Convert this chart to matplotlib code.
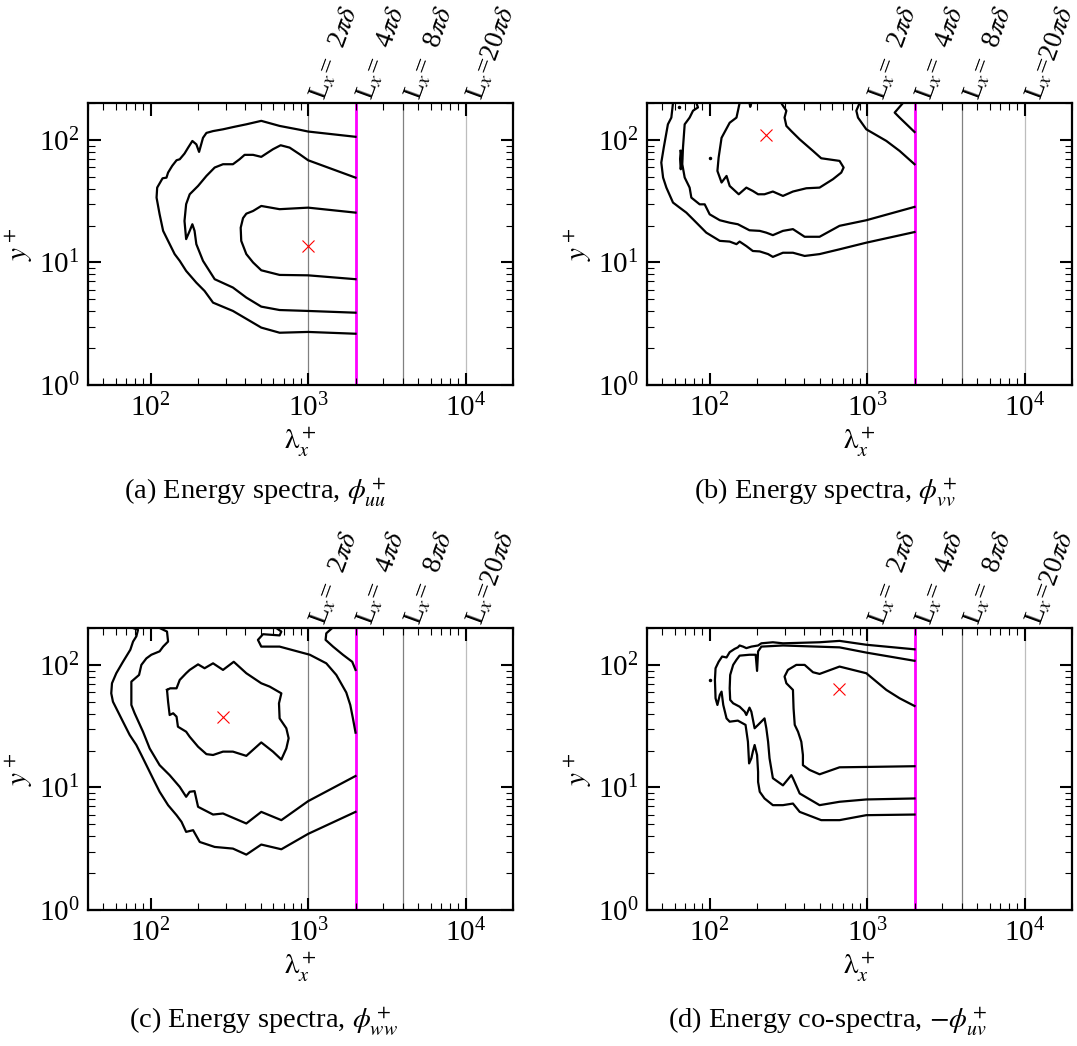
import matplotlib
matplotlib.use('Agg')
import matplotlib.pyplot as plt
import matplotlib.transforms as mtransforms

plt.rcParams['font.family'] = 'serif'
plt.rcParams['font.serif'] = ['Liberation Serif', 'DejaVu Serif']
plt.rcParams['mathtext.fontset'] = 'stix'

# ---- panel (a): phi_uu contours (lambda_x^+, y^+) ----
a1_x = [2000, 1000, 883, 659, 504, 405, 341, 288, 249, 226, 215, 203, 195, 184, 173, 164, 153, 146,
        137, 129, 126, 119, 110, 109, 114, 120, 129, 142, 153, 168, 195, 220, 249, 333, 504, 659, 1000, 2000]
a1_y = [106, 117, 121, 130, 143, 134, 128, 122, 118, 114, 104, 79.8, 92, 98, 86.5, 77.3, 69.5, 68.2,
        61.4, 54.1, 49.2, 48.6, 40.8, 33.8, 24.7, 18.1, 15.0, 11.7, 10.3, 8.53, 6.84, 5.85, 4.70, 4.02, 2.94, 2.67, 2.71, 2.62]
a2_x = [2000, 1000, 883, 763, 669, 598, 504, 447, 395, 367, 333, 288, 255, 226, 200, 177, 168, 164,
        168, 177, 184, 190, 195, 215, 255, 333, 405, 504, 659, 1000, 2000]
a2_y = [49.2, 68.2, 76.4, 86.5, 90.4, 83.9, 72.7, 75.5, 75.5, 69.5, 63.3, 63.3, 59.5, 50.8, 42.1, 36.0, 29.9, 21.8,
        15.5, 18.1, 20.5, 18.1, 14.1, 10.3, 7.30, 6.24, 5.17, 4.36, 4.09, 4.02, 3.89]
a3_x = [2000, 1000, 659, 504, 447, 405, 386, 373, 376, 405, 447, 504, 659, 1000, 2000]
a3_y = [25.5, 28.0, 27.2, 28.9, 26.3, 25.0, 23.0, 19.2, 15.0, 11.7, 10.0, 8.63, 7.91, 7.85, 7.30]
a_peak = (1000, 13.5)

# ---- panel (b): phi_vv ----
b1_x = [58.5, 57.1, 54.3, 51.1, 49.3, 50.6, 53.1, 58.5, 64.5, 71.1, 78.4, 95.2, 116, 134, 148, 155, 171, 188,
        208, 235, 252, 292, 338, 401, 499, 668, 988, 2000]
b1_y = [200, 152, 134, 86.5, 65.3, 49.3, 40.8, 30.8, 28.0, 25.5, 22.5, 17.5, 15.0, 14.8, 14.1, 14.8, 13.6, 12.4,
        12.3, 11.7, 11.1, 12.0, 12.0, 11.3, 11.7, 12.8, 14.5, 17.7]
b1r_x = [1689, 1532, 1496, 1608, 2000]
b1r_y = [200, 173, 167, 152, 116]
b2_x = [82.3, 84.3, 78.4, 74.6, 69.4, 67.7, 67.0, 69.4, 74.6, 76.5, 86.4, 93.0, 100, 116, 134, 151, 179, 208,
        229, 252, 292, 338, 401, 499, 668, 988, 2000]
b2_y = [200, 184, 173, 152, 134, 86.5, 63.3, 49.3, 40.8, 33.8, 29.8, 29.8, 24.7, 22.1, 21.1, 20.5, 18.3, 18.1,
        17.5, 16.7, 18.1, 18.7, 16.2, 16.2, 19.9, 22.1, 28.4]
b2r_x = [896, 854, 875, 988, 1324, 1608, 2000]
b2r_y = [200, 173, 152, 122, 98.1, 81.3, 63.3]
b3_x = [155, 148, 134, 119, 114, 112, 119, 128, 134, 153, 171, 188, 203, 223, 252, 292, 338, 411, 499, 607,
        685, 709, 668, 511, 453, 373, 330, 307, 299, 307, 292, 285]
b3_y = [200, 152, 138, 104, 71.7, 55.8, 44.9, 50.8, 42.1, 36.0, 40.8, 38.3, 36.0, 36.0, 37.9, 34.9, 37.9, 40.3,
        40.8, 47.8, 54.1, 59.5, 67.4, 70.8, 81.3, 101, 118, 130, 152, 173, 190, 200]
b4_x = [179, 181, 184]
b4_y = [200, 186, 200]
b5_x = [65.5, 66.7, 65.5, 64.9, 65.5]
b5_y = [81.3, 70.0, 57.6, 70.0, 81.3]
b_dots_x = [101, 63.9]
b_dots_y = [70.5, 184]
b_peak = (227, 109)

# ---- panel (c): phi_ww ----
c1_x = [77.3, 83.1, 81.1, 77.3, 74.3, 66.7, 60.5, 56.8, 56.2, 57.6, 62.0, 66.7, 73.6, 81.1, 87.3, 98.6, 106,
        114, 129, 146, 157, 168, 186, 205, 255, 333, 405, 504, 676, 1000, 2000]
c1_y = [200, 193, 171, 155, 133, 106, 85.5, 70.8, 58.6, 50.1, 41.5, 34.4, 26.8, 22.2, 18.4, 13.4, 11.1,
        9.22, 7.17, 5.94, 5.24, 4.34, 4.48, 3.59, 3.27, 3.17, 2.83, 3.42, 3.13, 4.18, 6.32]
c1r_x = [1423, 1304, 1291, 1439, 1663, 1906, 2000]
c1r_y = [200, 181, 160, 141, 121, 106, 91.0]
c2_x = [114, 127, 129, 120, 114, 101, 93.9, 87.3, 84.4, 75.4, 75.4, 79.1, 89.4, 98.6, 114, 132, 153, 168,
        177, 190, 200, 249, 288, 405, 504, 676, 1000, 2000]
c2_y = [200, 187, 155, 141, 129, 121, 113, 100, 82.8, 73.0, 47.1, 40.3, 28.5, 20.8, 15.2, 12.6, 10.1, 8.39,
        9.22, 9.33, 6.95, 6.01, 6.13, 5.08, 6.32, 5.41, 7.73, 12.4]
c2r_x = [628, 676, 659, 517, 480, 504, 659, 1025, 1304, 1510, 1747, 1852, 1925, 2000]
c2r_y = [200, 187, 174, 178, 160, 141, 141, 121, 103, 82.8, 59.5, 47.1, 36.6, 28.0]
c3_x = [127, 133, 146, 153, 168, 177, 200, 220, 249, 288, 337, 405, 504, 570, 676, 653, 659, 727, 752, 727,
        676, 598, 504, 405, 333, 288, 249, 226, 200, 177, 168, 149, 146, 139, 132, 129, 127]
c3_y = [62.5, 64.4, 64.4, 75.4, 85.5, 91.0, 101, 93.9, 103, 91.0, 106, 85.5, 70.8, 66.5, 58.6, 48.6, 36.6, 30.4,
        25.2, 20.8, 16.9, 19.6, 23.3, 18.1, 19.6, 19.6, 18.4, 18.7, 21.5, 25.9, 28.5, 31.3, 37.8, 40.3, 39.0, 50.1, 62.5]
c_peak = (288, 37.8)

# ---- panel (d): -phi_uv ----
d1_x = [2000, 988, 668, 499, 292, 252, 213, 203, 184, 171, 163, 155, 151, 144, 134, 128, 120, 114, 109, 108,
        109, 112, 116, 119, 122, 128, 134, 151, 169, 175, 178, 184, 188, 193, 200, 203, 203, 208, 223, 252,
        292, 338, 373, 511, 668, 988, 2000]
d1_y = [134, 146, 157, 153, 150, 153, 150, 144, 141, 137, 141, 144, 139, 135, 127, 115, 117, 106, 93.9, 75.4,
        53.4, 47.1, 56.9, 60.5, 47.1, 36.6, 34.4, 35.1, 32.4, 23.6, 15.7, 17.3, 19.6, 22.2, 18.4, 13.4,
        11.1, 9.22, 8.13, 7.17, 7.17, 7.39, 6.32, 5.41, 5.41, 5.94, 6.01]
d2_x = [2000, 988, 668, 292, 213, 203, 200, 196, 179, 155, 148, 141, 135, 134, 135, 141, 155, 167, 171, 179,
        184, 193, 203, 223, 229, 235, 240, 252, 292, 330, 338, 373, 499, 668, 988, 2000]
d2_y = [108, 126, 139, 144, 141, 129, 89.3, 121, 121, 119, 110, 100, 82.8, 64.4, 51.8, 48.6, 45.6, 41.5, 39.0,
        44.8, 41.5, 30.4, 32.4, 36.6, 30.4, 23.6, 17.3, 11.9, 10.4, 12.6, 11.9, 8.93, 7.17, 7.64, 7.98, 8.13]
d3_x = [2000, 1608, 1324, 988, 668, 499, 453, 401, 355, 314, 299, 307, 338, 341, 347, 364, 382, 391, 391,
        431, 499, 668, 988, 2000]
d3_y = [46.2, 53.4, 62.5, 85.5, 96.9, 84.4, 87.1, 100, 100, 91.0, 80.3, 70.8, 62.5, 44.2, 32.4, 28.5, 23.6,
        18.4, 15.2, 13.9, 12.8, 14.6, 14.7, 14.9]
d_dots_x = [101]
d_dots_y = [75]
d_peak = (662, 63.7)

# reference box lengths
ref_x = [1000, 2000, 4000, 10000]
ref_labels = [r'L$_x$=  2$\pi\delta$', r'L$_x$=  4$\pi\delta$', r'L$_x$=  8$\pi\delta$', r'L$_x$=20$\pi\delta$']
ref_colors = ['#808080', '#ff00ff', '#808080', '#bdbdbd']
ref_widths = [0.9, 2.0, 0.9, 0.9]

captions = [r'(a) Energy spectra, $\phi^+_{uu}$', r'(b) Energy spectra, $\phi^+_{vv}$',
            r'(c) Energy spectra, $\phi^+_{ww}$', r'(d) Energy co-spectra, $-\phi^+_{uv}$']

panels = [
    [(a1_x, a1_y), (a2_x, a2_y), (a3_x, a3_y)],
    [(b1_x, b1_y), (b1r_x, b1r_y), (b2_x, b2_y), (b2r_x, b2r_y), (b3_x, b3_y), (b4_x, b4_y), (b5_x, b5_y)],
    [(c1_x, c1_y), (c1r_x, c1r_y), (c2_x, c2_y), (c2r_x, c2r_y), (c3_x, c3_y)],
    [(d1_x, d1_y), (d2_x, d2_y), (d3_x, d3_y)],
]
peaks = [a_peak, b_peak, c_peak, d_peak]
dots = [None, (b_dots_x, b_dots_y), None, (d_dots_x, d_dots_y)]

W, H = 1077, 1046
fig = plt.figure(figsize=(W / 100, H / 100), dpi=100)

# axes boxes in pixels: left, top, right, bottom
boxes = [(88, 103, 513, 385), (647, 103, 1072, 385), (88, 628, 513, 910), (647, 628, 1072, 910)]
cap_pos = [(255, 493), (826, 493), (264, 1022), (828, 1022)]

for i in range(4):
    l, t, r, b = boxes[i]
    ax = fig.add_axes([l / W, 1 - b / H, (r - l) / W, (b - t) / H])
    ax.set_xscale('log')
    ax.set_yscale('log')
    ax.set_xlim(40, 20000)
    ax.set_ylim(1, 200)

    for xv, c, lw in zip(ref_x, ref_colors, ref_widths):
        ax.axvline(xv, color=c, lw=lw, zorder=1)

    for xs, ys in panels[i]:
        ax.plot(xs, ys, color='black', lw=1.6, zorder=3)
    if dots[i] is not None:
        ax.plot(dots[i][0], dots[i][1], 'o', color='black', ms=1.5, zorder=3)
    ax.plot([peaks[i][0]], [peaks[i][1]], marker='x', color='red', ms=8, mew=0.8, ls='none', zorder=4)

    # labels above the frame, lifted a little
    trans = mtransforms.offset_copy(ax.get_xaxis_transform(), fig=fig, x=-2, y=9, units='dots')
    for xv, lab in zip(ref_x, ref_labels):
        ax.text(xv, 1.0, lab, transform=trans, rotation=70,
                rotation_mode='anchor', ha='left', va='top', fontsize=19.5)

    ax.tick_params(which='both', direction='in', top=True, right=True, labelsize=21)
    ax.tick_params(which='major', length=9, width=1.5, pad=6)
    ax.tick_params(which='minor', length=5, width=0.8)
    for s in ax.spines.values():
        s.set_linewidth(1.6)

    ax.set_xlabel(r'$\mathrm{\lambda}_x^+$', fontsize=21, labelpad=3)
    ax.set_ylabel(r'$y^+$', fontsize=21, labelpad=2)

    fig.text(cap_pos[i][0] / W, 1 - cap_pos[i][1] / H, captions[i], ha='center', va='center', fontsize=20.5)

plt.savefig('out.png', dpi=100)
